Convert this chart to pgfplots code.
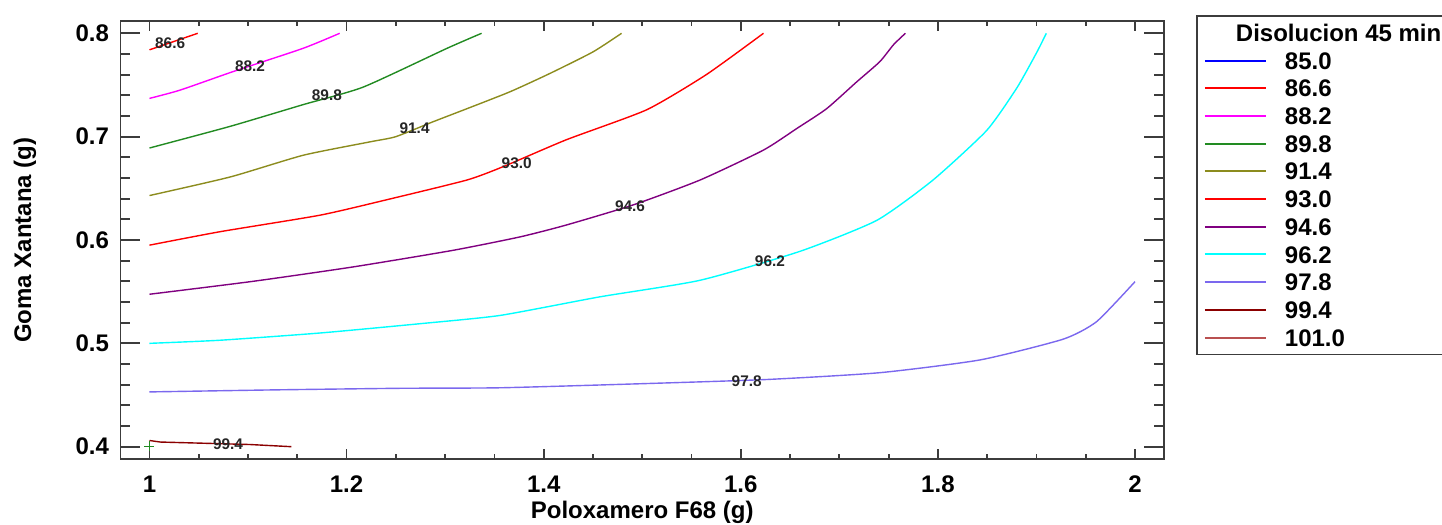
\documentclass[border=0pt]{standalone}
\usepackage{fontspec}
\setmainfont{Liberation Sans}
\usepackage{pgfplots}
\pgfplotsset{compat=1.18}

\definecolor{c850}{RGB}{0,0,255}
\definecolor{c866}{RGB}{255,0,0}
\definecolor{c882}{RGB}{255,0,255}
\definecolor{c898}{RGB}{34,139,34}
\definecolor{c914}{RGB}{140,140,30}
\definecolor{c930}{RGB}{255,0,0}
\definecolor{c946}{RGB}{128,0,128}
\definecolor{c962}{RGB}{0,255,255}
\definecolor{c978}{RGB}{123,104,238}
\definecolor{c994}{RGB}{139,0,0}
\definecolor{c1010}{RGB}{185,80,80}
\definecolor{frame}{RGB}{60,60,60}

\pgfplotsset{contour/.style={draw=#1, line width=0.7pt, smooth, tension=0.35, forget plot}}

\begin{document}
\begin{tikzpicture}
\begin{axis}[
    at={(0,0)}, anchor=south west,
    scale only axis, width=521.75pt, height=219.15pt,
    xmin=0.9706, xmax=2.0294, ymin=0.3878, ymax=0.8119,
    xtick={1,1.2,1.4,1.6,1.8,2}, minor x tick num=3,
    % y minor ticks as short regular ticks, y major ticks as long extra ticks
    ytick={0.4,0.42,0.44,0.46,0.48,0.5,0.52,0.54,0.56,0.58,0.6,0.62,0.64,0.66,0.68,0.7,0.72,0.74,0.76,0.78,0.8},
    yticklabels={},
    extra y ticks={0.4,0.5,0.6,0.7,0.8},
    extra y tick labels={0.4,0.5,0.6,0.7,0.8},
    extra y tick style={major tick length=10pt},
    major tick length=5pt, minor tick length=2.5pt,
    axis line style={draw=frame, line width=0.9pt},
    tick style={draw=frame, line width=0.9pt},
    /pgf/number format/assume math mode=true,
    ticklabel style={font=\bfseries\fontsize{12}{14}\selectfont},
    yticklabel style={xshift=-2.25pt},
    xticklabel style={yshift=-4.7pt},
    xlabel={Poloxamero F68 (g)},
    ylabel={Goma Xantana (g)},
    label style={font=\bfseries\fontsize{12}{14}\selectfont},
    xlabel style={at={(axis description cs:0.5,-0.1214)}, anchor=center},
    ylabel style={at={(axis description cs:-0.0915,0.5)}, anchor=center},
    legend cell align=left,
    legend image code/.code={\draw[#1, line width=1pt] (0pt,0pt) -- (30.5pt,0pt);},
    legend style={
        at={(axis description cs:1.0307,1.0137)}, anchor=north west,
        draw=frame, line width=0.9pt, fill=white,
        inner xsep=3.5pt, inner ysep=4.2pt,
        font=\bfseries\fontsize{12}{14}\selectfont,
        row sep=5.25pt, column sep=9pt,
        nodes={inner sep=0pt, text height=8.6pt, text depth=0pt},
    },
]
% legend
\addlegendimage{empty legend}
\addlegendentry{\hspace{-24.5pt}Disolucion 45 min\hspace{14pt}}
\addlegendimage{draw=c850}\addlegendentry{85.0}
\addlegendimage{draw=c866}\addlegendentry{86.6}
\addlegendimage{draw=c882}\addlegendentry{88.2}
\addlegendimage{draw=c898}\addlegendentry{89.8}
\addlegendimage{draw=c914}\addlegendentry{91.4}
\addlegendimage{draw=c930}\addlegendentry{93.0}
\addlegendimage{draw=c946}\addlegendentry{94.6}
\addlegendimage{draw=c962}\addlegendentry{96.2}
\addlegendimage{draw=c978}\addlegendentry{97.8}
\addlegendimage{draw=c994}\addlegendentry{99.4}
\addlegendimage{draw=c1010}\addlegendentry{101.0}

% contour lines
\addplot[contour=c866] coordinates {
    (1.0,0.784) (1.049,0.800)};
\addplot[contour=c882] coordinates {
    (1.0,0.737) (1.031,0.745) (1.085,0.763) (1.156,0.7855) (1.193,0.800)};
\addplot[contour=c898] coordinates {
    (1.0,0.689) (1.082,0.710) (1.156,0.731) (1.217,0.748) (1.302,0.7855) (1.337,0.800)};
\addplot[contour=c914] coordinates {
    (1.0,0.643) (1.082,0.661) (1.156,0.682) (1.224,0.695) (1.250,0.700) (1.288,0.7145)
    (1.322,0.727) (1.366,0.7435) (1.406,0.761) (1.450,0.782) (1.479,0.800)};
\addplot[contour=c930] coordinates {
    (1.0,0.595) (1.0715,0.608) (1.173,0.624) (1.241,0.639) (1.322,0.658) (1.359,0.671)
    (1.423,0.697) (1.5045,0.726) (1.565,0.760) (1.623,0.800)};
\addplot[contour=c946] coordinates {
    (1.0,0.5475) (1.105,0.560) (1.207,0.574) (1.308,0.590) (1.376,0.603) (1.423,0.6145)
    (1.491,0.634) (1.5586,0.658) (1.623,0.687) (1.657,0.708) (1.687,0.727) (1.7176,0.753)
    (1.741,0.7725) (1.755,0.789) (1.767,0.800)};
\addplot[contour=c962] coordinates {
    (1.0,0.500) (1.0715,0.503) (1.173,0.510) (1.2745,0.519) (1.3557,0.527) (1.457,0.545)
    (1.5586,0.561) (1.660,0.589) (1.738,0.619) (1.795,0.658) (1.8495,0.706) (1.880,0.747)
    (1.900,0.781) (1.910,0.800)};
\addplot[contour=c978] coordinates {
    (1.0,0.453) (1.129,0.455) (1.254,0.4565) (1.3557,0.457) (1.491,0.4607) (1.626,0.465)
    (1.741,0.4716) (1.843,0.484) (1.927,0.504) (1.961,0.521) (2.0,0.5597)};
\addplot[draw=c994, line width=0.7pt, forget plot] coordinates {
    (1.0,0.406) (1.011,0.4045) (1.102,0.4021) (1.144,0.400)};
% design point
\addplot[only marks, mark=+, mark size=2.5pt, draw=c898, line width=0.6pt, forget plot]
    coordinates {(1.0,0.4005)};

% contour labels
\begin{scope}[every node/.style={font=\bfseries\fontsize{7.7}{9}\selectfont, text=black!85, inner sep=0pt}]
\node at (axis cs:1.021,0.790) {86.6};
\node at (axis cs:1.102,0.768) {88.2};
\node at (axis cs:1.180,0.740) {89.8};
\node at (axis cs:1.269,0.708) {91.4};
\node at (axis cs:1.3726,0.674) {93.0};
\node at (axis cs:1.4876,0.633) {94.6};
\node at (axis cs:1.6296,0.579) {96.2};
\node at (axis cs:1.606,0.4636) {97.8};
\node at (axis cs:1.0797,0.4026) {99.4};
\end{scope}
\end{axis}
\pgfresetboundingbox
\useasboundingbox (-60.25pt,-32.85pt) rectangle (660.75pt,229.65pt);
\end{tikzpicture}
\end{document}
